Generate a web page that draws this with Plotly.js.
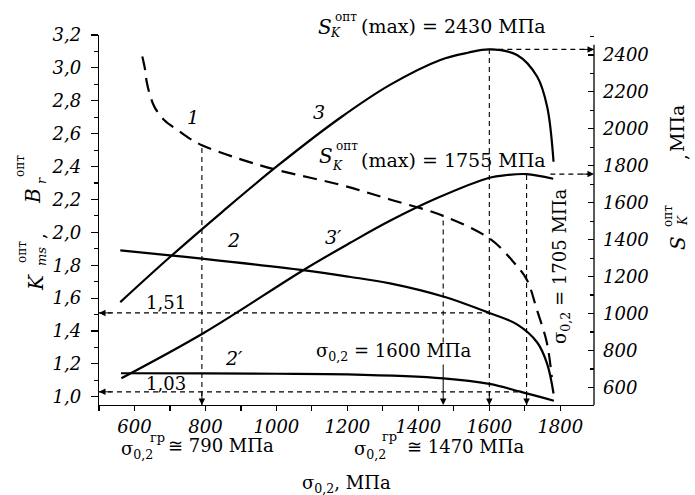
<!DOCTYPE html>
<html><head><meta charset="utf-8">
<script src="https://cdn.plot.ly/plotly-3.0.1.min.js"></script>
<style>html,body{margin:0;padding:0;background:#fff}</style>
</head><body><div id="chart" style="width:695px;height:495px"></div>
<script>
// ---- data ----
// curve 1 (dashed): B_r^опт, left axis
const sigma1 = [622, 629, 634, 643, 657, 685, 723, 756, 790, 877, 1000, 1178, 1320, 1470, 1602, 1668, 1706, 1734, 1762, 1776];
const Br1    = [3.07, 3.00, 2.92, 2.84, 2.76, 2.68, 2.62, 2.57, 2.53, 2.46, 2.38, 2.29, 2.20, 2.10, 1.96, 1.82, 1.71, 1.53, 1.33, 1.12];
// curve 2: K_ms^опт, left axis
const sigma2 = [560, 700, 790, 1075, 1205, 1320, 1470, 1600, 1678, 1735, 1763, 1781];
const Kms2   = [1.89, 1.86, 1.84, 1.77, 1.73, 1.69, 1.61, 1.51, 1.44, 1.33, 1.20, 1.02];
// curve 2': K_ms^опт, left axis
const sigma2p = [562, 800, 1000, 1200, 1470, 1600, 1687, 1782];
const Kms2p   = [1.143, 1.142, 1.140, 1.136, 1.112, 1.078, 1.031, 0.976];
// curve 3: S_K^опт, right axis (МПа)
const sigma3 = [560, 700, 850, 1000, 1180, 1320, 1462, 1540, 1600, 1678, 1735, 1763, 1781];
const SK3    = [1062, 1306, 1555, 1795, 2060, 2238, 2373, 2412, 2430, 2400, 2282, 2120, 1822];
// curve 3': S_K^опт, right axis (МПа)
const sigma3p = [563, 795, 1080, 1208, 1320, 1453, 1600, 1650, 1705, 1780];
const SK3p    = [650, 895, 1240, 1383, 1502, 1625, 1735, 1750, 1755, 1730];
// marked values
const sigmaGr = [790, 1470];          // σ0,2^гр
const sigmaOpt = [1600, 1705];        // σ0,2 at S_K max
const SKmax = [2430, 1755];
const KmsMarks = [1.51, 1.03];
const Br1AtGr = [2.53, 2.10];
const sigmaK103 = 1687;               // where curve 2' reaches 1,03
const sigmaEnd3p = 1772;
const xRange = [500, 1895], yRange = [0.95, 3.2], y2Range = [505, 2508];
const y2AxisTop = 2455;

const SERIF = '"DejaVu Serif", "Liberation Serif", serif';
const BLK = '#000';
const L = 99, R = 101, T = 35, B = 90, W = 695, H = 495;
const PW = W - L - R, PH = H - T - B;

function txt(text, px, py, o) {
  return Object.assign({
    text: text, x: (px - L) / PW, y: (H - B - py) / PH, xref: 'paper', yref: 'paper',
    showarrow: false, xanchor: 'center', yanchor: 'middle',
    font: {family: SERIF, size: 18, color: BLK}
  }, o || {});
}
function fnt(size) { return {family: SERIF, size: size, color: BLK}; }

const lineStyle = {color: BLK, width: 2.2, shape: 'spline', smoothing: 1};
const traces = [
  {x: sigma1, y: Br1, mode: 'lines', line: Object.assign({}, lineStyle, {dash: '14px,8px'}), hoverinfo: 'skip'},
  {x: sigma2, y: Kms2, mode: 'lines', line: lineStyle, hoverinfo: 'skip'},
  {x: sigma2p, y: Kms2p, mode: 'lines', line: lineStyle, hoverinfo: 'skip'},
  {x: sigma3, y: SK3, yaxis: 'y2', mode: 'lines', line: lineStyle, hoverinfo: 'skip'},
  {x: sigma3p, y: SK3p, yaxis: 'y2', mode: 'lines', line: lineStyle, hoverinfo: 'skip'}
];

const dl = {color: BLK, width: 1.1, dash: '5px,4px'};
const shapes = [
  {type: 'line', xref: 'x', yref: 'y', x0: sigmaGr[0], x1: sigmaGr[0], y0: yRange[0], y1: Br1AtGr[0], line: dl},
  {type: 'line', xref: 'x', yref: 'y', x0: sigmaGr[1], x1: sigmaGr[1], y0: 1.33, y1: Br1AtGr[1], line: dl},
  {type: 'line', xref: 'x', yref: 'y2', x0: sigmaOpt[0], x1: sigmaOpt[0], y0: y2Range[0], y1: SKmax[0], line: dl},
  {type: 'line', xref: 'x', yref: 'y2', x0: sigmaOpt[1], x1: sigmaOpt[1], y0: y2Range[0], y1: SKmax[1], line: dl},
  {type: 'line', xref: 'x', yref: 'y', x0: xRange[0], x1: sigmaOpt[0], y0: KmsMarks[0], y1: KmsMarks[0], line: dl},
  {type: 'line', xref: 'x', yref: 'y', x0: xRange[0], x1: sigmaK103, y0: KmsMarks[1], y1: KmsMarks[1], line: dl},
  {type: 'line', xref: 'x', yref: 'y2', x0: sigmaOpt[0], x1: xRange[1], y0: SKmax[0], y1: SKmax[0], line: dl},
  {type: 'line', xref: 'x', yref: 'y2', x0: sigmaEnd3p, x1: xRange[1], y0: SKmax[1], y1: SKmax[1], line: dl},
  {type: 'line', xref: 'paper', yref: 'y2', x0: 1, x1: 1, y0: y2Range[0], y1: y2AxisTop, line: {color: BLK, width: 1.3}}
];

function arr(o) {
  return Object.assign({text: '', showarrow: true, arrowhead: 2, arrowsize: 1.3, arrowwidth: 1,
    arrowcolor: BLK, standoff: 0}, o);
}
const annotations = [
  arr({xref: 'paper', yref: 'y', x: 0, y: KmsMarks[0], ax: 14, ay: 0}),
  arr({xref: 'paper', yref: 'y', x: 0, y: KmsMarks[1], ax: 14, ay: 0}),
  arr({xref: 'x', yref: 'paper', x: sigmaGr[0], y: 0, ax: 0, ay: -14}),
  arr({xref: 'x', yref: 'paper', x: sigmaGr[1], y: 0, ax: 0, ay: -42}),
  arr({xref: 'x', yref: 'paper', x: sigmaOpt[0], y: 0, ax: 0, ay: -14}),
  arr({xref: 'x', yref: 'paper', x: sigmaOpt[1], y: 0, ax: 0, ay: -14}),
  arr({xref: 'paper', yref: 'y2', x: 1, y: SKmax[0], ax: -14, ay: 0}),
  arr({xref: 'paper', yref: 'y2', x: 1, y: SKmax[1], ax: -14, ay: 0}),

  // top label S_K^опт(max) = 2430 МПа
  txt('<i>S</i>', 325, 27, {font: fnt(20)}),
  txt('опт', 346, 17, {font: fnt(12)}),
  txt('<i>K</i>', 335, 33, {font: fnt(12)}),
  txt('(max) = ' + SKmax[0] + ' МПа', 359, 26, {xanchor: 'left', font: fnt(19)}),
  // S_K^опт(max) = 1755 МПа
  txt('<i>S</i>', 326, 156, {font: fnt(20)}),
  txt('опт', 347, 146, {font: fnt(12)}),
  txt('<i>K</i>', 337, 166, {font: fnt(12)}),
  txt('(max) = ' + SKmax[1] + ' МПа', 359, 160, {xanchor: 'left', font: fnt(19)}),

  // curve numbers
  txt('<i>1</i>', 193, 117, {font: fnt(19)}),
  txt('<i>3</i>', 319, 112, {font: fnt(19)}),
  txt('<i>2</i>', 233, 240, {font: fnt(19)}),
  txt('<i>3′</i>', 333, 237, {font: fnt(19)}),
  txt('<i>2′</i>', 234, 358, {font: fnt(19)}),

  txt('1,51', 166, 302),
  txt('1,03', 166, 383),
  txt('σ<sub>0,2</sub> = 1600 МПа', 474, 352, {xanchor: 'right'}),
  txt('σ<sub>0,2</sub> = 1705 МПа', 561, 266, {textangle: -90}),

  // below x axis
  txt('σ<sub>0,2</sub>', 119, 450, {xanchor: 'left'}),
  txt('гр', 157, 437, {font: fnt(13)}),
  txt('≅ ' + sigmaGr[0] + ' МПа', 166, 445, {xanchor: 'left'}),
  txt('σ<sub>0,2</sub>', 352, 450, {xanchor: 'left'}),
  txt('гр', 389, 436, {font: fnt(13)}),
  txt('≅ ' + sigmaGr[1] + ' МПа', 405, 446, {xanchor: 'left'}),

  // axis titles
  txt('σ<sub>0,2</sub>, МПа', 346, 484),
  txt('<i>K</i>', 36, 283, {textangle: -90, font: fnt(20)}),
  txt('<i>ms</i>', 41, 257, {textangle: -90, font: fnt(13)}),
  txt('опт', 22, 252, {textangle: -90, font: fnt(12)}),
  txt(',', 38, 236, {textangle: -90}),
  txt('<i>B</i>', 33, 196, {textangle: -90, font: fnt(20)}),
  txt('<i>r</i>', 41, 181, {textangle: -90, font: fnt(13)}),
  txt('опт', 20, 166, {textangle: -90, font: fnt(12)}),

  txt('<i>S</i>', 678, 243, {textangle: -90, font: fnt(20)}),
  txt('<i>K</i>', 683, 221, {textangle: -90, font: fnt(12)}),
  txt('опт', 668, 216, {textangle: -90, font: fnt(12)}),
  txt(',', 680, 157, {textangle: -90}),
  txt('МПа', 677, 129, {textangle: -90, font: fnt(19)})
];

const tickFont = {family: SERIF, size: 18, color: BLK, style: 'italic'};
const layout = {
  width: W, height: H,
  margin: {l: L, r: R, t: T, b: B, pad: 0},
  paper_bgcolor: '#fff', plot_bgcolor: '#fff',
  showlegend: false,
  separators: ', ',
  xaxis: {range: xRange, dtick: 200, tick0: 0, ticks: 'outside', ticklen: 5, tickwidth: 1.2,
    tickcolor: BLK, showline: true, linecolor: BLK, linewidth: 1.3, showgrid: false, zeroline: false,
    tickfont: tickFont, minor: {dtick: 100, tick0: 0, ticks: 'outside', ticklen: 5, tickwidth: 1.2, tickcolor: BLK}},
  yaxis: {range: yRange, dtick: 0.2, tick0: 0, tickformat: '.1f', ticks: 'outside', ticklen: 7, tickwidth: 1.2,
    tickcolor: BLK, showline: true, linecolor: BLK, linewidth: 1.3, showgrid: false, zeroline: false,
    tickfont: tickFont, ticklabelstandoff: 6,
    minor: {dtick: 0.1, tick0: 0, ticks: 'outside', ticklen: 4, tickwidth: 1.2, tickcolor: BLK}},
  yaxis2: {range: y2Range, overlaying: 'y', side: 'right', dtick: 200, tick0: 0, ticks: 'inside', ticklen: 6,
    tickwidth: 1.2, tickcolor: BLK, showline: false, showgrid: false, zeroline: false,
    tickfont: tickFont, ticklabelstandoff: 8,
    minor: {dtick: 100, tick0: 0, ticks: 'inside', ticklen: 4, tickwidth: 1.2, tickcolor: BLK}},
  shapes: shapes,
  annotations: annotations
};
Plotly.newPlot('chart', traces, layout, {staticPlot: true, displayModeBar: false});
</script>
</body></html>
